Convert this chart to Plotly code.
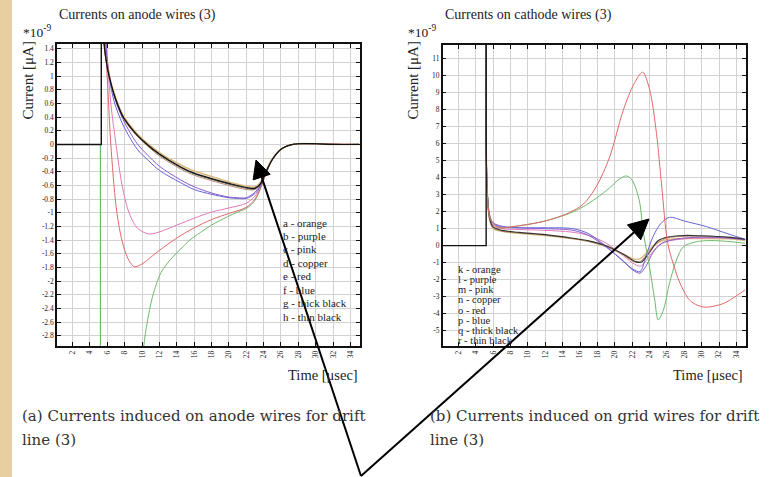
import plotly.graph_objects as go

W, H = 776, 477

# ---------------- data: (a) anode wires (units of 1e-9) ----------------
STEP_A_X = [0, 5.3, 5.3]
STEP_A_Y = [0, 0, 3.0]

BLK_A_X = [5.3, 5.45, 5.63, 6.0, 6.5, 7.0, 7.75, 8.5, 9.5, 10.6, 12, 14.45, 16, 18, 20, 22, 23, 23.6, 24.2, 25, 26, 27, 28, 30, 32, 35]
THICK_BLACK_A = [3.0, 2.0, 1.47, 1.12, 0.85, 0.65, 0.42, 0.28, 0.13, 0.0, -0.14, -0.33, -0.42, -0.5, -0.57, -0.63, -0.64, -0.58, -0.42, -0.22, -0.07, -0.01, 0.01, 0.01, 0.0, 0.0]
THIN_BLACK_A = [3.0, 2.0, 1.47, 1.12, 0.85, 0.64, 0.41, 0.27, 0.12, -0.01, -0.15, -0.34, -0.43, -0.51, -0.58, -0.64, -0.65, -0.58, -0.42, -0.22, -0.07, -0.01, 0.01, 0.01, 0.0, 0.0]
ORANGE_A = [3.0, 2.0, 1.47, 1.13, 0.87, 0.67, 0.44, 0.3, 0.15, 0.02, -0.12, -0.3, -0.39, -0.47, -0.55, -0.61, -0.62, -0.56, -0.4, -0.21, -0.07, -0.01, 0.01, 0.01, 0.0, 0.0]
COPPER_A = [3.0, 2.0, 1.47, 1.11, 0.84, 0.63, 0.4, 0.26, 0.11, -0.02, -0.17, -0.36, -0.45, -0.53, -0.6, -0.66, -0.66, -0.59, -0.43, -0.22, -0.07, -0.01, 0.01, 0.01, 0.0, 0.0]

MID_A_X = [5.5, 5.8, 6.2, 6.8, 7.75, 8.5, 9.5, 10.6, 12, 14.45, 16, 18, 20, 21, 22, 23, 23.6, 24.2, 25, 26, 27, 28, 30, 32, 35]
PURPLE_A = [3.0, 1.47, 1.05, 0.7, 0.38, 0.2, 0.0, -0.15, -0.32, -0.52, -0.62, -0.71, -0.77, -0.78, -0.78, -0.7, -0.6, -0.42, -0.22, -0.07, -0.01, 0.01, 0.01, 0.0, 0.0]
BLUE_A = [3.0, 1.47, 1.0, 0.62, 0.3, 0.12, -0.08, -0.22, -0.38, -0.56, -0.66, -0.73, -0.78, -0.79, -0.79, -0.72, -0.62, -0.44, -0.23, -0.07, -0.01, 0.01, 0.01, 0.0, 0.0]

PINK_A_X = [5.5, 5.9, 6.4, 7.0, 7.7, 8.5, 9.5, 10.8, 12, 14, 16, 18, 20, 22, 23, 23.6, 24.2, 25, 26, 27, 28, 30, 35]
PINK_A = [3.0, 1.47, 0.6, 0.0, -0.6, -1.0, -1.23, -1.31, -1.28, -1.18, -1.08, -0.99, -0.93, -0.86, -0.76, -0.62, -0.43, -0.22, -0.07, -0.01, 0.01, 0.01, 0.0]

RED_A_X = [5.4, 5.8, 6.1, 6.4, 7.0, 7.5, 8.0, 8.5, 9.1, 10, 11, 12, 14, 16, 18, 20, 22, 23, 23.6, 24.2, 25, 26, 27, 28, 30, 35]
RED_A = [3.0, 1.47, 0.7, 0.0, -0.9, -1.3, -1.55, -1.7, -1.79, -1.75, -1.65, -1.55, -1.37, -1.22, -1.1, -1.01, -0.92, -0.8, -0.65, -0.45, -0.22, -0.07, -0.01, 0.01, 0.01, 0.0]

GREEN_JUMP_A_X = [5.2, 5.2]
GREEN_JUMP_A_Y = [0, -20]
GREEN_A_X = [9.9, 10.2, 10.6, 11.2, 12.2, 13.3, 14.45, 15.5, 16.7, 18, 19.8, 21, 22.1, 23, 23.6, 24.2, 25, 26, 27, 28, 30, 35]
GREEN_A = [-4.0, -2.95, -2.6, -2.23, -1.87, -1.68, -1.53, -1.4, -1.29, -1.18, -1.06, -0.99, -0.93, -0.82, -0.66, -0.45, -0.22, -0.07, -0.01, 0.01, 0.01, 0.0]

# ---------------- data: (b) cathode wires ----------------
STEP_B_X = [0, 5.2, 5.2]
STEP_B_Y = [0, 0, 14]

RED_B_X = [5.22, 5.3, 5.6, 6.0, 6.8, 8, 10, 11.4, 13, 14.8, 16.4, 17.9, 19.4, 21.0, 22.2, 23.2, 24.0, 24.8, 25.4, 26.1, 27.0, 27.5, 28.6, 29.5, 30.5, 32.5, 34, 35]
RED_B = [12, 3.5, 1.7, 1.3, 1.05, 1.1, 1.25, 1.38, 1.6, 1.95, 2.45, 3.5, 5.2, 8.0, 9.5, 10.2, 9.2, 6.6, 3.5, 0.14, -1.5, -2.2, -3.2, -3.5, -3.62, -3.4, -2.95, -2.6]

GREEN_B_X = [5.22, 5.3, 5.6, 6.0, 6.8, 8, 10, 11.4, 13, 14.8, 16.4, 17.9, 19.4, 20.5, 21.35, 22.0, 22.8, 23.3, 24.0, 24.6, 25.0, 25.6, 26.3, 27.1, 27.9, 29.4, 31, 33, 35]
GREEN_B = [12, 3.5, 1.7, 1.3, 1.05, 1.1, 1.25, 1.38, 1.6, 1.9, 2.3, 2.8, 3.4, 3.9, 4.1, 3.85, 2.7, 0.73, -1.24, -3.2, -4.37, -3.78, -2.2, -0.84, -0.06, 0.23, 0.3, 0.25, 0.14]

BLUE_B_X = [5.22, 5.3, 5.6, 6.0, 7, 9, 12, 15.2, 17, 19.05, 21.0, 22.0, 22.9, 23.6, 24.4, 25.3, 26.3, 28, 30.55, 33, 35]
BLUE_B = [12, 3.5, 1.8, 1.3, 1.1, 1.05, 1.05, 1.0, 0.7, -0.06, -0.94, -1.35, -1.53, -0.6, 0.53, 1.3, 1.67, 1.45, 1.12, 0.7, 0.37]
PURPLE_B = [12, 3.5, 1.8, 1.35, 1.15, 1.05, 1.0, 0.9, 0.6, -0.1, -0.9, -1.4, -1.62, -1.2, -0.4, 0.1, 0.3, 0.45, 0.5, 0.45, 0.35]

LOW_B_X = [5.22, 5.3, 5.6, 6.0, 7, 9, 12, 15, 17, 19, 21, 22.3, 23.0, 24, 25, 26, 28, 30, 33, 35]
PINK_B = [12, 3.5, 1.7, 1.2, 1.0, 0.95, 0.9, 0.8, 0.6, 0.15, -0.6, -1.1, -1.2, -0.6, 0.0, 0.25, 0.4, 0.45, 0.45, 0.35]
ORANGE_B = [12, 3.5, 1.5, 1.0, 0.85, 0.72, 0.6, 0.42, 0.25, -0.05, -0.5, -0.8, -0.75, -0.2, 0.2, 0.35, 0.42, 0.42, 0.4, 0.3]
THICK_BLACK_B = [12, 3.5, 1.6, 1.1, 0.9, 0.78, 0.65, 0.45, 0.28, 0.0, -0.5, -0.92, -0.98, -0.4, 0.3, 0.5, 0.6, 0.58, 0.5, 0.38]
COPPER_B = [12, 3.5, 1.6, 1.05, 0.85, 0.75, 0.62, 0.42, 0.25, -0.05, -0.55, -0.95, -0.9, -0.3, 0.2, 0.45, 0.55, 0.55, 0.48, 0.35]

X_TICKS = list(range(2, 36, 2))
Y_TICKS_A = [round(-2.8 + 0.2 * i, 1) for i in range(22)]
Y_TICKS_B = list(range(-5, 12))

LEGEND_A = ["a - orange", "b - purple", "c - pink", "d - copper", "e - red", "f - blue", "g - thick black", "h - thin black"]
LEGEND_B = ["k - orange", "l - purple", "m - pink", "n - copper", "o - red", "p - blue", "q - thick black", "r - thin black"]

C_ORANGE = "#d9bb80"
C_PURPLE = "#8c5ccc"
C_PINK = "#e27ab8"
C_COPPER = "#b88a6a"
C_RED = "#e06868"
C_BLUE = "#6464d8"
C_GREEN = "#6cba6c"
C_BLACK = "#111111"

SERIF = "Liberation Serif"
CAPTION_FONT = "DejaVu Serif"

fig = go.Figure()


def add(x, y, color, width=1.0, ax="a", shape="spline"):
    xa, ya = ("x", "y") if ax == "a" else ("x2", "y2")
    line = dict(color=color, width=width, shape=shape)
    if shape == "spline":
        line["smoothing"] = 0.9
    fig.add_trace(go.Scatter(x=x, y=y, mode="lines", xaxis=xa, yaxis=ya, line=line,
                             showlegend=False, hoverinfo="skip"))


# panel (a)
add(GREEN_JUMP_A_X, GREEN_JUMP_A_Y, C_GREEN, 1.2, "a", "linear")
add(GREEN_A_X, GREEN_A, C_GREEN, 1.0)
add(RED_A_X, RED_A, C_RED, 1.0)
add(PINK_A_X, PINK_A, C_PINK, 1.0)
add(BLK_A_X, COPPER_A, C_COPPER, 1.0)
add(MID_A_X, BLUE_A, C_BLUE, 1.0)
add(MID_A_X, PURPLE_A, C_PURPLE, 1.0)
add(BLK_A_X, ORANGE_A, C_ORANGE, 1.6)
add(BLK_A_X, THIN_BLACK_A, C_BLACK, 0.7)
add(BLK_A_X, THICK_BLACK_A, C_BLACK, 1.2)
add(STEP_A_X, STEP_A_Y, C_BLACK, 1.4, "a", "linear")

# panel (b)
add(LOW_B_X, ORANGE_B, C_ORANGE, 1.4, "b")
add(LOW_B_X, COPPER_B, C_COPPER, 1.0, "b")
add(LOW_B_X, PINK_B, C_PINK, 1.0, "b")
add(BLUE_B_X, PURPLE_B, C_PURPLE, 1.0, "b")
add(BLUE_B_X, BLUE_B, C_BLUE, 1.0, "b")
add(LOW_B_X, THICK_BLACK_B, "#333333", 1.1, "b")
add(GREEN_B_X, GREEN_B, C_GREEN, 1.0, "b")
add(RED_B_X, RED_B, C_RED, 1.0, "b")
add(STEP_B_X, STEP_B_Y, C_BLACK, 1.4, "b", "linear")


def px2x(px):
    return px / W


def py2y(py):
    return 1 - py / H


axis_common = dict(showline=True, linecolor="#111", linewidth=1.5, mirror="ticks",
                   ticks="inside", ticklen=4, tickcolor="#111", tickwidth=1,
                   showgrid=True, gridcolor="#d2d2d2", gridwidth=1, zeroline=False,
                   tickfont=dict(family=SERIF, size=7.5, color="#222"))


def labels(vals):
    return ["{:g}".format(v) for v in vals]


fig.update_layout(
    width=W, height=H, margin=dict(l=0, r=0, t=0, b=0),
    paper_bgcolor="white", plot_bgcolor="white",
    xaxis=dict(domain=[px2x(57), px2x(360)], range=[0.2, 35.1], tickvals=X_TICKS,
               ticktext=labels(X_TICKS), tickangle=-90, anchor="y", **axis_common),
    yaxis=dict(domain=[py2y(346), py2y(44)], range=[-2.95, 1.47], tickvals=Y_TICKS_A,
               ticktext=labels(Y_TICKS_A), anchor="x", **axis_common),
    xaxis2=dict(domain=[px2x(442.7), px2x(746)], range=[0.2, 35.1], tickvals=X_TICKS,
                ticktext=labels(X_TICKS), tickangle=-90, anchor="y2", **axis_common),
    yaxis2=dict(domain=[py2y(346), py2y(45)], range=[-5.9, 11.8], tickvals=Y_TICKS_B,
                ticktext=labels(Y_TICKS_B), anchor="x2", **axis_common),
)

ann = []


def text(px, py, s, size, xanchor="left", yanchor="middle", angle=0, color="#222", family=SERIF):
    ann.append(dict(x=px2x(px), y=py2y(py), xref="paper", yref="paper", text=s,
                    showarrow=False, xanchor=xanchor, yanchor=yanchor, textangle=angle,
                    font=dict(family=family, size=size, color=color)))


# titles and labels
text(57, 15, "Currents on anode wires (3)", 14)
text(443, 15, "Currents on cathode wires (3)", 14)
text(21, 31, "*10<sup>-9</sup>", 13.5)
text(406, 31, "*10<sup>-9</sup>", 13.5)
text(27.5, 81, "Current [μA]", 15, xanchor="center", angle=-90)
text(412.5, 81, "Current [μA]", 15, xanchor="center", angle=-90)
text(360, 375, "Time [μsec]", 14.5, xanchor="right")
text(745, 375, "Time [μsec]", 14.5, xanchor="right")

for i, s in enumerate(LEGEND_A):
    text(281, 222.7 + i * 13.4, s, 11)
for i, s in enumerate(LEGEND_B):
    text(456, 269 + i * 10.25, s, 10.5)

# captions
text(20, 416, "(a) Currents induced on anode wires for drift", 15, color="#333", family=CAPTION_FONT)
text(20, 440, "line (3)", 15, color="#333", family=CAPTION_FONT)
text(428, 416, "(b) Currents induced on grid wires for drift", 15, color="#333", family=CAPTION_FONT)
text(428, 440, "line (3)", 15, color="#333", family=CAPTION_FONT)

fig.update_layout(annotations=ann)

# decorative parchment strip on the left
shapes = [dict(type="rect", xref="paper", yref="paper", x0=0, x1=px2x(12), y0=0, y1=1,
               fillcolor="#e8cfa2", line=dict(width=0), layer="below")]


def arrow(tail, tip, length, half):
    tx, ty = tail
    hx, hy = tip
    dx, dy = tx - hx, ty - hy
    n = (dx * dx + dy * dy) ** 0.5
    ux, uy = dx / n, dy / n
    bx, by = hx + ux * length, hy + uy * length
    px_, py_ = -uy, ux
    c1 = (bx + px_ * half, by + py_ * half)
    c2 = (bx - px_ * half, by - py_ * half)
    shapes.append(dict(type="line", xref="paper", yref="paper",
                       x0=px2x(tx), y0=py2y(ty), x1=px2x(bx), y1=py2y(by),
                       line=dict(color="black", width=2)))
    path = "M {} {} L {} {} L {} {} Z".format(px2x(hx), py2y(hy), px2x(c1[0]), py2y(c1[1]),
                                              px2x(c2[0]), py2y(c2[1]))
    shapes.append(dict(type="path", xref="paper", yref="paper", path=path,
                       fillcolor="black", line=dict(color="black", width=1)))


arrow((361, 476), (256, 160), 18, 9)
arrow((361, 476), (649, 219), 20, 10)

fig.update_layout(shapes=shapes)

fig.write_html("out.html")
